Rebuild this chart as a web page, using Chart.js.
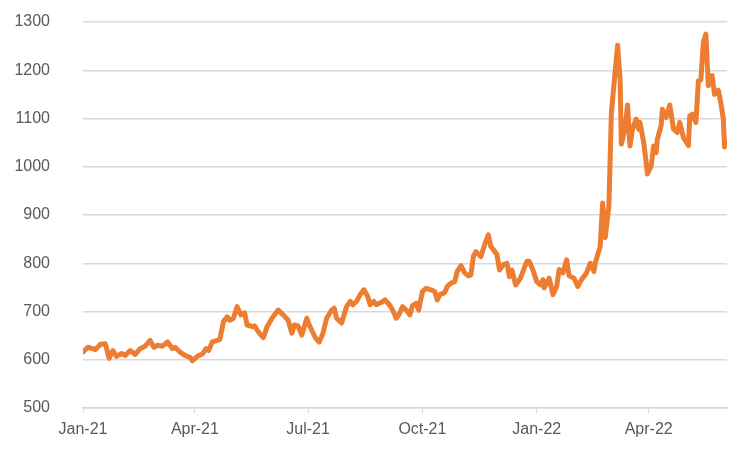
<!DOCTYPE html>
<html>
<head>
<meta charset="utf-8">
<script src="https://cdn.jsdelivr.net/npm/chart.js@4"></script>
<style>
  html, body { margin: 0; padding: 0; background: #fff; }
  #wrap { width: 749px; height: 450px; }
</style>
</head>
<body>
<div id="wrap"><canvas id="priceChart" width="749" height="450"></canvas></div>
<script>
// days since 1 Jan 2021
const days = [
  0, 4, 10, 14, 18, 21, 24, 27, 31, 34,
  38, 42, 46, 50, 54, 57, 60, 64, 68, 72,
  74, 78, 82, 86, 88, 92, 96, 99, 101, 104,
  108, 110, 113, 116, 118, 121, 124, 127, 130, 132,
  137, 138, 141, 145, 148, 152, 157, 161, 165, 168,
  170, 173, 176, 180, 182, 187, 190, 193, 196, 200,
  202, 204, 208, 212, 215, 217, 220, 223, 226, 229,
  231, 234, 236, 240, 243, 247, 249, 252, 254, 257,
  260, 263, 265, 268, 270, 273, 276, 280, 283, 285,
  287, 291, 293, 296, 299, 301, 304, 307, 310, 312,
  314, 316, 320, 323, 326, 328, 333, 335, 338, 341,
  343, 345, 348, 352, 357, 359, 362, 365, 368, 370,
  371, 375, 378, 381, 383, 386, 389, 391, 395, 398,
  401, 405, 408, 411, 412, 416, 418, 420, 423, 425,
  427, 430, 432, 433, 436, 438, 440, 442, 445, 447,
  448, 451, 453, 454, 457, 459, 461, 462, 465, 466,
  469, 472, 475, 478, 480, 483, 485, 487, 488, 490,
  493, 495, 497, 499, 501, 503, 506, 508, 511, 513,
  515, 516, 517
];
const prices = [
  616, 626, 621, 632, 633, 603, 619, 607, 613, 609,
  619, 611, 623, 628, 640, 626, 630, 628, 637, 623,
  626, 616, 609, 605, 598, 607, 612, 623, 619, 637,
  640, 642, 679, 689, 682, 686, 710, 693, 697, 672,
  668, 670, 658, 646, 668, 686, 703, 693, 682, 655,
  672, 670, 651, 686, 672, 645, 637, 655, 686, 703,
  707, 686, 676, 710, 721, 714, 721, 735, 745, 731,
  714, 721, 714, 719, 724, 712, 703, 686, 693, 710,
  703, 693, 712, 717, 703, 741, 748, 745, 741, 724,
  735, 739, 752, 759, 762, 783, 795, 780, 774, 776,
  814, 824, 814, 838, 859, 835, 818, 786, 797, 800,
  772, 786, 755, 770, 804, 804, 785, 762, 755, 766,
  749, 769, 735, 752, 787, 780, 807, 774, 769, 752,
  766, 780, 800, 783, 800, 835, 925, 853, 918, 1112,
  1168, 1252, 1182, 1047, 1078, 1128, 1043, 1078, 1099, 1078,
  1092, 1050, 1008, 985, 1001, 1043, 1029, 1057, 1085, 1119,
  1102, 1128, 1078, 1071, 1092, 1060, 1053, 1044, 1105, 1109,
  1092, 1178, 1180, 1258, 1275, 1168, 1189, 1150, 1159, 1133,
  1100, 1041, 1052
];

const tickDays = [0, 90, 181, 273, 365, 455];
const tickLabels = ['Jan-21', 'Apr-21', 'Jul-21', 'Oct-21', 'Jan-22', 'Apr-22'];

const textColor = '#595959';
const gridColor = '#d9d9d9';
const font = { family: '"Liberation Sans", Arial, sans-serif', size: 16 };

const ctx = document.getElementById('priceChart').getContext('2d');
new Chart(ctx, {
  type: 'line',
  data: {
    datasets: [{
      data: days.map((d, i) => ({ x: d, y: prices[i] })),
      borderColor: '#ED7D31',
      borderWidth: 5,
      pointRadius: 0,
      tension: 0,
      borderJoinStyle: 'round',
      borderCapStyle: 'round'
    }]
  },
  options: {
    responsive: false,
    animation: false,
    layout: { padding: { top: 22, right: 22, left: 0, bottom: 0 } },
    plugins: {
      legend: { display: false },
      tooltip: { enabled: false }
    },
    scales: {
      x: {
        type: 'linear',
        min: 0,
        max: 518,
        afterBuildTicks: (s) => { s.ticks = tickDays.map(v => ({ value: v })); },
        afterFit: (s) => { s.height = 42; },
        grid: { drawOnChartArea: false, drawTicks: true, tickLength: 5, color: gridColor },
        border: { color: gridColor, width: 1.5 },
        ticks: {
          color: textColor,
          font: font,
          padding: 7,
          maxRotation: 0,
          autoSkip: false,
          callback: (v, i) => tickLabels[i]
        }
      },
      y: {
        min: 500,
        max: 1300,
        afterFit: (s) => { s.width = 83; },
        grid: { color: gridColor, lineWidth: 1.5, drawTicks: true, tickLength: 31, tickColor: 'rgba(0,0,0,0)' },
        border: { display: false },
        ticks: {
          stepSize: 100,
          color: textColor,
          font: font,
          padding: 2,
          callback: (v) => String(v)
        }
      }
    }
  }
});
</script>
</body>
</html>
